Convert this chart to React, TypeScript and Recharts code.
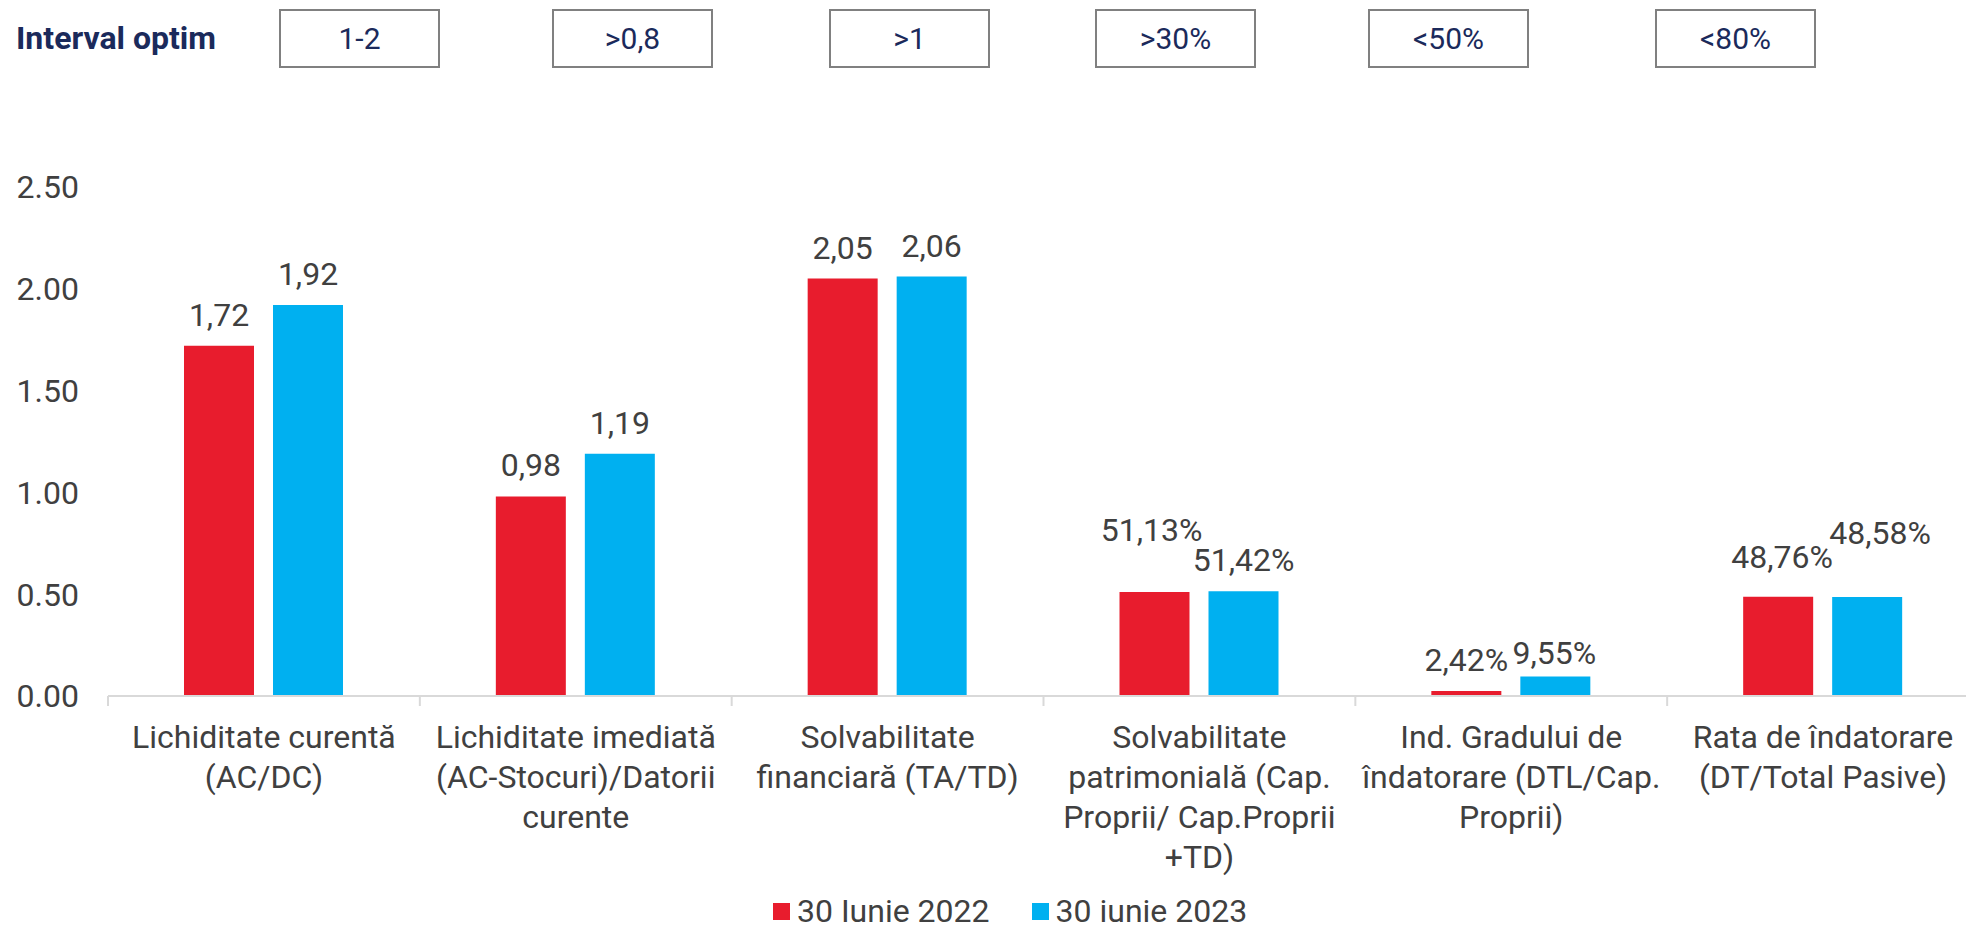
import React from 'react'
import { BarChart, Bar, XAxis, YAxis, LabelList } from 'recharts'

// categorii (liniile etichetelor separate prin \n)
const categories = [
  'Lichiditate curentă\n(AC/DC)',
  'Lichiditate imediată\n(AC-Stocuri)/Datorii\ncurente',
  'Solvabilitate\nfinanciară (TA/TD)',
  'Solvabilitate\npatrimonială (Cap.\nProprii/ Cap.Proprii\n+TD)',
  'Ind. Gradului de\nîndatorare (DTL/Cap.\nProprii)',
  'Rata de îndatorare\n(DT/Total Pasive)',
]
const values2022 = [1.72, 0.98, 2.05, 0.5113, 0.0242, 0.4876]
const values2023 = [1.92, 1.19, 2.06, 0.5142, 0.0955, 0.4858]
const isPercent = [false, false, false, true, true, true]
const optimRanges = ['1-2', '>0,8', '>1', '>30%', '<50%', '<80%']
const yTicks = [0, 0.5, 1, 1.5, 2, 2.5]

const seriesNames = ['30 Iunie 2022', '30 iunie 2023']
const seriesColors = ['#E81C2D', '#00B0F0']

// layout
const W = 1990
const H = 926
const TOP = 187
const PLOT_H = 509
const LEFT = 108
const RIGHT = 11
const AXIS_Y = TOP + PLOT_H
const BAND = (W - LEFT - RIGHT) / categories.length
const TEXT = '#404040'
const NAVY = '#1B2A5B'
const FONT = 32

const boxLefts = [279, 552, 829, 1095, 1368, 1655]

// deplasari manuale ale etichetelor (dx, dy)
const nudge2022 = [[0, 0], [0, 0], [0, 0], [-3, -31], [0, 0], [4, -9]]
const nudge2023 = [[0, 0], [0, 0], [0, 0], [0, 0], [-1, 7], [13, -33]]

const data = categories.map((name, i) => ({
  name,
  v2022: values2022[i],
  v2023: values2023[i],
}))

const fmt = (v: number, i: number) =>
  isPercent[i]
    ? (v * 100).toFixed(2).replace('.', ',') + '%'
    : v.toFixed(2).replace('.', ',')

const makeLabel = (nudges: number[][]) => (props: any) => {
  const { x, y, width, value, index } = props
  const [dx, dy] = nudges[index] || [0, 0]
  return (
    <text
      x={x + width / 2 + dx}
      y={y - 20 + dy}
      textAnchor="middle"
      fill={TEXT}
      fontSize={FONT}
    >
      {fmt(value, index)}
    </text>
  )
}

const XTick = (props: any) => {
  const { x, payload, index } = props
  const lines = String(payload.value).split('\n')
  const half = BAND / 2
  return (
    <g>
      <line x1={x - half} x2={x - half} y1={AXIS_Y} y2={AXIS_Y + 10} stroke="#d9d9d9" strokeWidth={2} />
      {index === categories.length - 1 && (
        <line x1={x + half} x2={x + half} y1={AXIS_Y} y2={AXIS_Y + 10} stroke="#d9d9d9" strokeWidth={2} />
      )}
      <text x={x} y={AXIS_Y + 52} textAnchor="middle" fill={TEXT} fontSize={FONT}>
        {lines.map((l, i) => (
          <tspan key={i} x={x} dy={i === 0 ? 0 : 40}>
            {l}
          </tspan>
        ))}
      </text>
    </g>
  )
}

export default function App() {
  return (
    <div
      style={{
        position: 'fixed',
        left: 0,
        top: 0,
        width: 1966,
        height: 926,
        overflow: 'hidden',
        background: '#fff',
        fontFamily: 'Roboto, sans-serif',
      }}
    >
      {/* header */}
      <div
        style={{
          position: 'absolute',
          left: 16,
          top: 9,
          height: 59,
          lineHeight: '59px',
          fontSize: 32,
          fontWeight: 700,
          color: NAVY,
        }}
      >
        Interval optim
      </div>
      {optimRanges.map((r, i) => (
        <div
          key={r}
          style={{
            position: 'absolute',
            left: boxLefts[i],
            top: 9,
            width: 161,
            height: 59,
            boxSizing: 'border-box',
            border: '2px solid #808080',
            display: 'flex',
            alignItems: 'center',
            justifyContent: 'center',
            fontSize: 30,
            color: NAVY,
          }}
        >
          {r}
        </div>
      ))}

      <div style={{ position: 'absolute', left: 0, top: 0 }}>
        <BarChart
          width={W}
          height={H}
          data={data}
          margin={{ top: TOP, right: RIGHT, bottom: 0, left: 0 }}
          barGap={19}
          barSize={70}
        >
          <XAxis
            dataKey="name"
            interval={0}
            tickLine={false}
            axisLine={{ stroke: '#d9d9d9', strokeWidth: 2 }}
            tick={<XTick />}
            height={H - AXIS_Y}
          />
          <YAxis
            width={LEFT}
            domain={[0, 2.5]}
            ticks={yTicks}
            axisLine={false}
            tickLine={false}
            tickSize={6}
            tickMargin={23}
            tick={{ fill: TEXT, fontSize: FONT }}
            tickFormatter={(v: number) => v.toFixed(2)}
          />
          <Bar dataKey="v2022" name={seriesNames[0]} fill={seriesColors[0]} isAnimationActive={false}>
            <LabelList dataKey="v2022" content={makeLabel(nudge2022)} />
          </Bar>
          <Bar dataKey="v2023" name={seriesNames[1]} fill={seriesColors[1]} isAnimationActive={false}>
            <LabelList dataKey="v2023" content={makeLabel(nudge2023)} />
          </Bar>
        </BarChart>
      </div>

      {/* legend */}
      <div
        style={{
          position: 'absolute',
          left: 773,
          top: 891,
          height: 40,
          display: 'flex',
          alignItems: 'center',
          fontSize: FONT,
          color: TEXT,
        }}
      >
        {seriesNames.map((n, i) => (
          <div key={n} style={{ display: 'flex', alignItems: 'center', marginRight: 42 }}>
            <span style={{ width: 17, height: 17, background: seriesColors[i], marginRight: 7 }} />
            <span>{n}</span>
          </div>
        ))}
      </div>
    </div>
  )
}
